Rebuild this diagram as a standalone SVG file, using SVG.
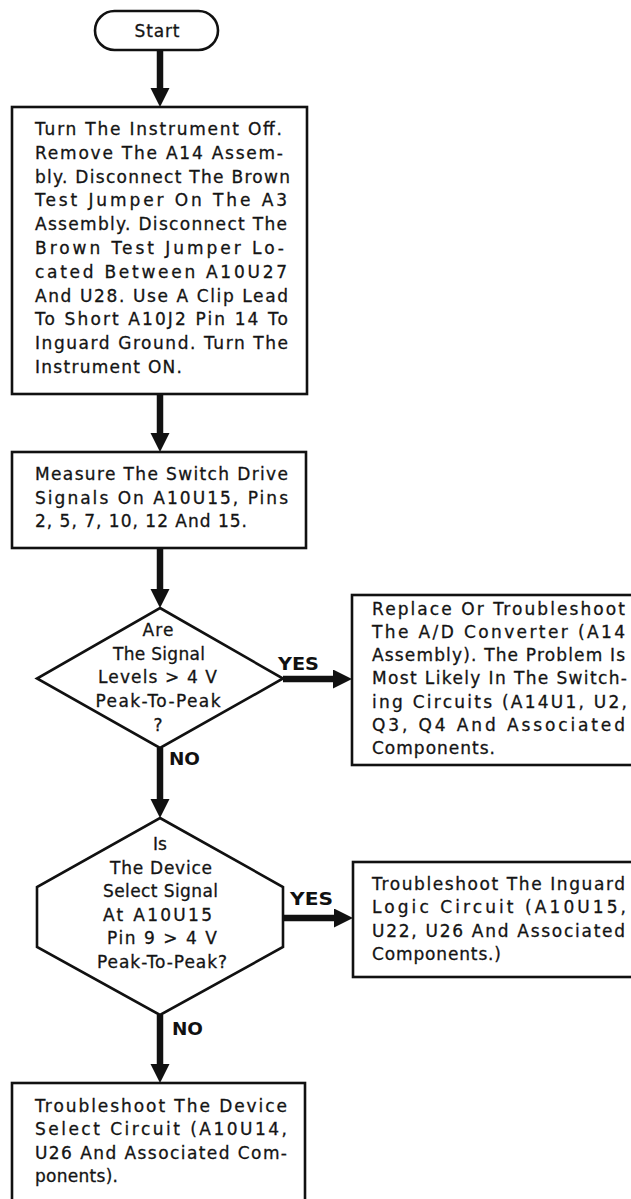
<svg xmlns="http://www.w3.org/2000/svg" width="631" height="1199" viewBox="0 0 631 1199">
<style>
  .bg { fill: #ffffff; }
  .shape { fill: #ffffff; stroke: #111111; stroke-width: 2.6; }
  .t { font-family: "DejaVu Sans", "Liberation Sans", sans-serif; font-size: 17px; fill: #141414; stroke: #141414; stroke-width: 0.3; }
  .c { text-anchor: middle; }
  .lbl { font-family: "DejaVu Sans", "Liberation Sans", sans-serif; font-size: 17.5px; font-weight: bold; fill: #111111; }
  .conn { stroke: #111111; stroke-width: 6.5; fill: none; }
</style>
<defs>
  <marker id="ah" markerUnits="userSpaceOnUse" markerWidth="20" markerHeight="20" refX="9" refY="9.5" orient="auto">
    <path d="M0,0 L19,9.5 L0,19 Z" fill="#111111"/>
  </marker>
</defs>
<rect class="bg" x="0" y="0" width="631" height="1199"/>

<g id="connectors">
  <line class="conn" x1="160" y1="50" x2="160" y2="97" marker-end="url(#ah)"/>
  <line class="conn" x1="160" y1="394" x2="160" y2="442" marker-end="url(#ah)"/>
  <line class="conn" x1="160" y1="548" x2="160" y2="598" marker-end="url(#ah)"/>
  <line class="conn" x1="283" y1="679" x2="342" y2="679" marker-end="url(#ah)"/>
  <line class="conn" x1="160" y1="748" x2="160" y2="808" marker-end="url(#ah)"/>
  <line class="conn" x1="282" y1="918" x2="343" y2="918" marker-end="url(#ah)"/>
  <line class="conn" x1="160" y1="1015" x2="160" y2="1073" marker-end="url(#ah)"/>
  <text class="lbl" x="278" y="670" textLength="41" lengthAdjust="spacingAndGlyphs">YES</text>
  <text class="lbl" x="169" y="765" textLength="31" lengthAdjust="spacingAndGlyphs">NO</text>
  <text class="lbl" x="290" y="905" textLength="43" lengthAdjust="spacingAndGlyphs">YES</text>
  <text class="lbl" x="172" y="1035" textLength="31" lengthAdjust="spacingAndGlyphs">NO</text>
</g>

<g id="start">
  <rect class="shape" x="95" y="11" width="123" height="39" rx="19.5" ry="19.5"/>
  <text class="t c" x="157" y="37" textLength="45">Start</text>
</g>

<g id="step1">
  <rect class="shape" x="12" y="107" width="295" height="287"/>
  <text class="t" x="35" y="135" textLength="247" lengthAdjust="spacing">Turn The Instrument Off.</text>
  <text class="t" x="35" y="158.8" textLength="248" lengthAdjust="spacing">Remove The A14 Assem-</text>
  <text class="t" x="35" y="182.6" textLength="255" lengthAdjust="spacing">bly. Disconnect The Brown</text>
  <text class="t" x="35" y="206.4" textLength="252" lengthAdjust="spacing">Test Jumper On The A3</text>
  <text class="t" x="35" y="230.2" textLength="252" lengthAdjust="spacing">Assembly. Disconnect The</text>
  <text class="t" x="35" y="254" textLength="249" lengthAdjust="spacing">Brown Test Jumper Lo-</text>
  <text class="t" x="35" y="277.8" textLength="252" lengthAdjust="spacing">cated Between A10U27</text>
  <text class="t" x="35" y="301.6" textLength="253" lengthAdjust="spacing">And U28. Use A Clip Lead</text>
  <text class="t" x="35" y="325.4" textLength="253" lengthAdjust="spacing">To Short A10J2 Pin 14 To</text>
  <text class="t" x="35" y="349.2" textLength="253" lengthAdjust="spacing">Inguard Ground. Turn The</text>
  <text class="t" x="35" y="373" textLength="147" lengthAdjust="spacing">Instrument ON.</text>
</g>

<g id="step2">
  <rect class="shape" x="12" y="452" width="294" height="96"/>
  <text class="t" x="35" y="480" textLength="253" lengthAdjust="spacing">Measure The Switch Drive</text>
  <text class="t" x="35" y="503.5" textLength="253" lengthAdjust="spacing">Signals On A10U15, Pins</text>
  <text class="t" x="35" y="527" textLength="212" lengthAdjust="spacing">2, 5, 7, 10, 12 And 15.</text>
</g>

<g id="decision1">
  <polygon class="shape" points="160,608 283,678.5 160,748 37,678.5"/>
  <text class="t c" x="158" y="636" textLength="31">Are</text>
  <text class="t c" x="159" y="659.5" textLength="92">The Signal</text>
  <text class="t c" x="157.5" y="683" textLength="119">Levels &gt; 4 V</text>
  <text class="t c" x="158" y="706.5" textLength="125">Peak-To-Peak</text>
  <text class="t c" x="158" y="731">?</text>
</g>

<g id="action1">
  <rect class="shape" x="352" y="595" width="282" height="170"/>
  <text class="t" x="372" y="614.5" textLength="253" lengthAdjust="spacing">Replace Or Troubleshoot</text>
  <text class="t" x="372" y="637.8" textLength="253" lengthAdjust="spacing">The A/D Converter (A14</text>
  <text class="t" x="372" y="661.1" textLength="253" lengthAdjust="spacing">Assembly). The Problem Is</text>
  <text class="t" x="372" y="684.4" textLength="255" lengthAdjust="spacing">Most Likely In The Switch-</text>
  <text class="t" x="372" y="707.7" textLength="255" lengthAdjust="spacing">ing Circuits (A14U1, U2,</text>
  <text class="t" x="372" y="731" textLength="253" lengthAdjust="spacing">Q3, Q4 And Associated</text>
  <text class="t" x="372" y="754.3" textLength="123" lengthAdjust="spacing">Components.</text>
</g>

<g id="decision2">
  <polygon class="shape" points="160,818 283,887 283,947 160,1015 37,947 37,887"/>
  <text class="t c" x="160" y="850">Is</text>
  <text class="t c" x="161" y="873.5" textLength="102">The Device</text>
  <text class="t c" x="160.5" y="897" textLength="115">Select Signal</text>
  <text class="t c" x="157.5" y="920.5" textLength="109">At A10U15</text>
  <text class="t c" x="162" y="944" textLength="110">Pin 9 &gt; 4 V</text>
  <text class="t c" x="162" y="967.5" textLength="130">Peak-To-Peak?</text>
</g>

<g id="action2">
  <rect class="shape" x="353" y="862" width="281" height="115"/>
  <text class="t" x="372" y="890" textLength="253" lengthAdjust="spacing">Troubleshoot The Inguard</text>
  <text class="t" x="372" y="913.3" textLength="254" lengthAdjust="spacing">Logic Circuit (A10U15,</text>
  <text class="t" x="372" y="936.6" textLength="253" lengthAdjust="spacing">U22, U26 And Associated</text>
  <text class="t" x="372" y="960" textLength="129" lengthAdjust="spacing">Components.)</text>
</g>

<g id="action3">
  <rect class="shape" x="12" y="1083" width="293" height="122"/>
  <text class="t" x="35" y="1112" textLength="252" lengthAdjust="spacing">Troubleshoot The Device</text>
  <text class="t" x="35" y="1135.3" textLength="252" lengthAdjust="spacing">Select Circuit (A10U14,</text>
  <text class="t" x="35" y="1158.6" textLength="252" lengthAdjust="spacing">U26 And Associated Com-</text>
  <text class="t" x="35" y="1182" textLength="83" lengthAdjust="spacing">ponents).</text>
</g>
</svg>
